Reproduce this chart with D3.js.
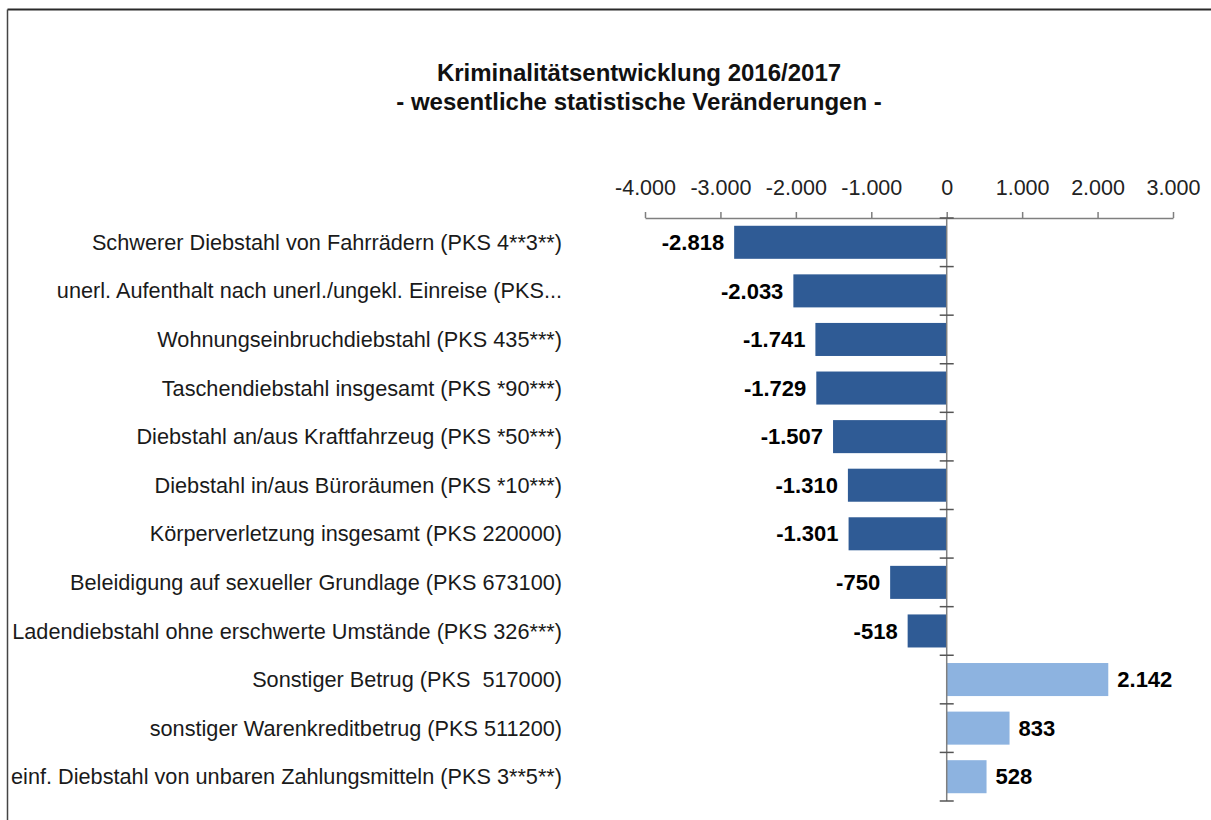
<!DOCTYPE html>
<html>
<head>
<meta charset="utf-8">
<script src="https://cdn.jsdelivr.net/npm/d3@7"></script>
<style>
  html, body { margin: 0; padding: 0; background: #fff; }
  svg { display: block; }
  text { font-family: "Liberation Sans", Arial, sans-serif; white-space: pre; }
</style>
</head>
<body>
<script>
const titleLines = ["Kriminalitätsentwicklung 2016/2017", "- wesentliche statistische Veränderungen -"];
const categories = [
  "Schwerer Diebstahl von Fahrrädern (PKS 4**3**)",
  "unerl. Aufenthalt nach unerl./ungekl. Einreise (PKS...",
  "Wohnungseinbruchdiebstahl (PKS 435***)",
  "Taschendiebstahl insgesamt (PKS *90***)",
  "Diebstahl an/aus Kraftfahrzeug (PKS *50***)",
  "Diebstahl in/aus Büroräumen (PKS *10***)",
  "Körperverletzung insgesamt (PKS 220000)",
  "Beleidigung auf sexueller Grundlage (PKS 673100)",
  "Ladendiebstahl ohne erschwerte Umstände (PKS 326***)",
  "Sonstiger Betrug (PKS  517000)",
  "sonstiger Warenkreditbetrug (PKS 511200)",
  "einf. Diebstahl von unbaren Zahlungsmitteln (PKS 3**5**)"
];
const values = [-2818, -2033, -1741, -1729, -1507, -1310, -1301, -750, -518, 2142, 833, 528];
const xTicks = [-4000, -3000, -2000, -1000, 0, 1000, 2000, 3000];
const xDomain = [-4000, 3000];

const W = 1211, H = 820;
const fmt = v => (v < 0 ? "-" : "") + d3.format(",")(Math.abs(v)).replace(/,/g, ".");

const svg = d3.select("body").append("svg").attr("width", W).attr("height", H);

// frame (top and left border)
svg.append("line").attr("x1", 7.5).attr("x2", W).attr("y1", 9.5).attr("y2", 9.5)
  .attr("stroke", "#2a2a2a").attr("stroke-width", 2);
svg.append("line").attr("x1", 7.5).attr("x2", 7.5).attr("y1", 9.5).attr("y2", H)
  .attr("stroke", "#444").attr("stroke-width", 1.5);

// title
svg.append("text").attr("x", 639).attr("y", 81).attr("text-anchor", "middle")
  .attr("font-size", 24).attr("font-weight", "bold").attr("fill", "#111").text(titleLines[0]);
svg.append("text").attr("x", 639).attr("y", 110).attr("text-anchor", "middle")
  .attr("font-size", 24).attr("font-weight", "bold").attr("fill", "#111").text(titleLines[1]);

const x = d3.scaleLinear().domain(xDomain).range([645, 1173]);
const y = d3.scaleBand().domain(categories).range([218, 801]).paddingInner(0.32).paddingOuter(0.16);
const yb = d3.scaleBand().domain(categories).range([218, 801]);

// top axis
const xAxis = d3.axisTop(x).tickValues(xTicks).tickFormat(fmt).tickSize(6).tickSizeOuter(0).tickPadding(17);
const gx = svg.append("g").attr("transform", "translate(0,218)").call(xAxis);
gx.attr("font-family", null);
gx.select(".domain").attr("stroke", "#7f7f7f").attr("stroke-width", 1.5);
gx.selectAll(".tick line").attr("stroke", "#7f7f7f").attr("stroke-width", 1.5);
gx.selectAll(".tick text").attr("font-size", 21.5).attr("fill", "#222")
  .style("font-family", "'Liberation Sans', Arial, sans-serif");

// bars
svg.append("g").selectAll("rect").data(values).join("rect")
  .attr("x", d => x(Math.min(0, d)))
  .attr("width", d => Math.abs(x(d) - x(0)))
  .attr("y", (d, i) => y(categories[i]))
  .attr("height", y.bandwidth())
  .attr("fill", d => d < 0 ? "#2f5b95" : "#8db3e0");

// vertical axis at zero with crossing ticks
const yAxisG = svg.append("g").attr("transform", `translate(${x(0)},0)`);
yAxisG.append("line").attr("y1", 218).attr("y2", 801).attr("stroke", "#7f7f7f").attr("stroke-width", 1.5);
const boundaries = categories.map(c => yb(c)).concat([yb.range()[1]]);
yAxisG.selectAll("line.tk").data(boundaries).join("line").attr("class", "tk")
  .attr("x1", -7).attr("x2", 7).attr("y1", d => d).attr("y2", d => d)
  .attr("stroke", "#555").attr("stroke-width", 1.5);

// category labels
svg.append("g").selectAll("text").data(categories).join("text")
  .attr("x", 562)
  .attr("y", d => yb(d) + yb.bandwidth() / 2)
  .attr("dy", "0.35em")
  .attr("text-anchor", "end")
  .attr("font-size", 21.7)
  .attr("fill", "#1a1a1a")
  .text(d => d);

// value labels
svg.append("g").selectAll("text").data(values).join("text")
  .attr("x", d => d < 0 ? x(d) - 10 : x(d) + 9)
  .attr("y", (d, i) => yb(categories[i]) + yb.bandwidth() / 2)
  .attr("dy", "0.35em")
  .attr("text-anchor", d => d < 0 ? "end" : "start")
  .attr("font-size", 22)
  .attr("font-weight", "bold")
  .attr("fill", "#000")
  .text(d => fmt(d));
</script>
</body>
</html>
